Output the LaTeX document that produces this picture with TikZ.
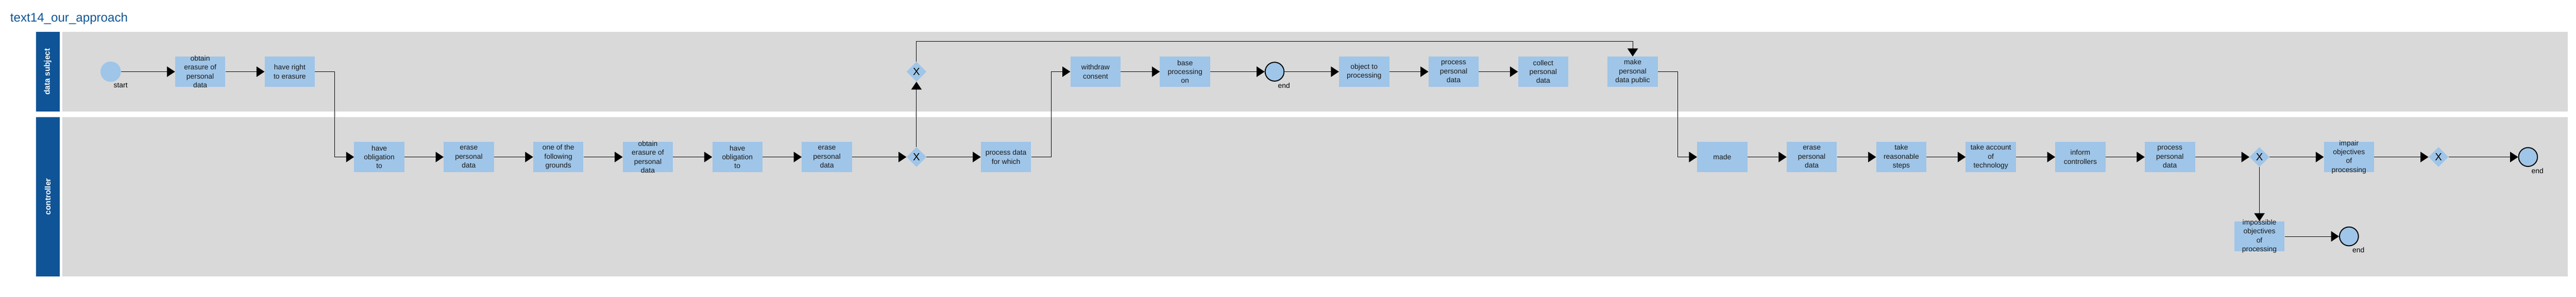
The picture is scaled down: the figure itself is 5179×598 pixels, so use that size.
\documentclass[tikz,border=0pt]{standalone}
\usepackage{fontspec}
\setmainfont{Liberation Sans}
\usetikzlibrary{arrows.meta,shapes.geometric}
\definecolor{poolblue}{RGB}{15,84,150}
\definecolor{taskblue}{RGB}{159,197,232}
\definecolor{lanegray}{RGB}{217,217,217}
\newcommand{\bpmntask}[4]{\node[task] (#1) at (#2,#3) {}; \node[tasktext] (#1-t) at (#1.center) {#4};}
\begin{document}
\begin{tikzpicture}[x=1pt,y=-1pt,
  task/.style={rectangle,fill=taskblue,minimum width=101pt,minimum height=61pt,inner sep=0pt},
  tasktext/.style={align=center,font=\fontsize{14.4}{18}\selectfont,inner sep=0pt,text=black!90},
  gate/.style={diamond,fill=taskblue,minimum width=40pt,minimum height=40pt,inner sep=0pt,font=\fontsize{21}{21}\selectfont},
  startev/.style={circle,fill=taskblue,minimum size=41pt,inner sep=0pt},
  endev/.style={circle,fill=taskblue,draw=black,line width=2pt,minimum size=38pt,inner sep=0pt},
  evlabel/.style={font=\fontsize{14.4}{17}\selectfont,inner sep=0pt},
  flow/.style={draw=black,line width=1pt,-{Triangle[length=16pt,width=21pt]}},
  lanebar/.style={fill=poolblue,text=white,rotate=90,minimum width=161pt,minimum height=48pt,inner sep=0pt,font=\fontsize{16}{16}\selectfont\bfseries},
  lanebar2/.style={lanebar,minimum width=321pt},
  lanebody/.style={fill=lanegray,minimum width=5037pt,minimum height=161pt,inner sep=0pt,anchor=north west},
  lanebody2/.style={lanebody,minimum height=321pt}
]
\useasboundingbox (0,0) rectangle (5179,598);
% title
\node[anchor=base west,font=\fontsize{25}{25}\selectfont,text=poolblue,inner sep=0pt] (title) at (20.5,44) {text14\_our\_approach};
% lanes
\node[lanebar] (ds) at (96,144.5) {data subject};
\node[lanebar2] (ctl) at (96,396.5) {controller};
\node[lanebody] (lane1) at (125,64) {};
\node[lanebody2] (lane2) at (125,236) {};
% events
\node[startev] (start) at (222.5,144.5) {};
\node[evlabel] (startl) at ([shift={(20,27.5)}]start.center) {start};
\node[endev] (e1) at (2562.5,144.5) {};
\node[evlabel] (e1l) at ([shift={(19,27.5)}]e1.center) {end};
\node[endev] (e2) at (4722.5,476.5) {};
\node[evlabel] (e2l) at ([shift={(19,27.5)}]e2.center) {end};
\node[endev] (e3) at (5082.5,316.5) {};
\node[evlabel] (e3l) at ([shift={(19,27.5)}]e3.center) {end};
% gateways
\node[gate] (g1) at (1842.5,316.5) {X};
\node[gate] (g2) at (1842.5,144.5) {X};
\node[gate] (g3) at (4542.5,316.5) {X};
\node[gate] (g4) at (4902.5,316.5) {X};
% tasks
\bpmntask{o1}{402.5}{144.5}{obtain\\erasure of\\personal\\data}
\bpmntask{r1}{582.5}{144.5}{have right\\to erasure}
\bpmntask{b1}{762.5}{316.5}{have\\obligation\\to}
\bpmntask{b2}{942.5}{316.5}{erase\\personal\\data}
\bpmntask{b3}{1122.5}{316.5}{one of the\\following\\grounds}
\bpmntask{b4}{1302.5}{316.5}{obtain\\erasure of\\personal\\data}
\bpmntask{b5}{1482.5}{316.5}{have\\obligation\\to}
\bpmntask{b6}{1662.5}{316.5}{erase\\personal\\data}
\bpmntask{b7}{2022.5}{316.5}{process data\\for which}
\bpmntask{t1}{2202.5}{144.5}{withdraw\\consent}
\bpmntask{t2}{2382.5}{144.5}{base\\processing\\on}
\bpmntask{t3}{2742.5}{144.5}{object to\\processing}
\bpmntask{t4}{2922.5}{144.5}{process\\personal\\data}
\bpmntask{t5}{3102.5}{144.5}{collect\\personal\\data}
\bpmntask{t6}{3282.5}{144.5}{make\\personal\\data public}
\bpmntask{c1}{3462.5}{316.5}{made}
\bpmntask{c2}{3642.5}{316.5}{erase\\personal\\data}
\bpmntask{c3}{3822.5}{316.5}{take\\reasonable\\steps}
\bpmntask{c4}{4002.5}{316.5}{take account\\of\\technology}
\bpmntask{c5}{4182.5}{316.5}{inform\\controllers}
\bpmntask{c6}{4362.5}{316.5}{process\\personal\\data}
\bpmntask{c7}{4722.5}{316.5}{impair\\objectives\\of\\processing}
\bpmntask{d1}{4542.5}{476.5}{impossible\\objectives\\of\\processing}
% flows
\draw[flow] (start) -- (o1);
\draw[flow] (o1) -- (r1);
\draw[flow] (r1.east) -- ++(39.5,0) |- (b1.west);
\draw[flow] (b1) -- (b2);
\draw[flow] (b2) -- (b3);
\draw[flow] (b3) -- (b4);
\draw[flow] (b4) -- (b5);
\draw[flow] (b5) -- (b6);
\draw[flow] (b6) -- (g1);
\draw[flow] (g1) -- (b7);
\draw[flow] (g1) -- (g2);
\draw[flow] (g2.north) -- ++(0,-40.5) -| (t6.north);
\draw[flow] (b7.east) -- ++(40,0) |- (t1.west);
\draw[flow] (t1) -- (t2);
\draw[flow] (t2) -- (e1);
\draw[flow] (e1) -- (t3);
\draw[flow] (t3) -- (t4);
\draw[flow] (t4) -- (t5);
\draw[flow] (t6.east) -- ++(39.5,0) |- (c1.west);
\draw[flow] (c1) -- (c2);
\draw[flow] (c2) -- (c3);
\draw[flow] (c3) -- (c4);
\draw[flow] (c4) -- (c5);
\draw[flow] (c5) -- (c6);
\draw[flow] (c6) -- (g3);
\draw[flow] (g3) -- (c7);
\draw[flow] (c7) -- (g4);
\draw[flow] (g4) -- (e3);
\draw[flow] (g3) -- (d1);
\draw[flow] (d1) -- (e2);
\end{tikzpicture}
\end{document}
